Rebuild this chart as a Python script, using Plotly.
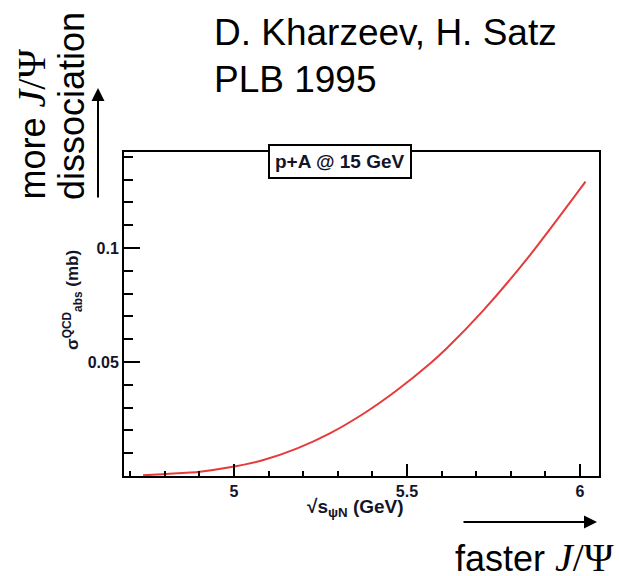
import plotly.graph_objects as go

# ---- data ----
sqrt_s = [4.737, 4.805, 4.902, 4.988, 5.085, 5.181, 5.277, 5.374, 5.470, 5.566,
          5.615, 5.720, 5.851, 6.016]
sigma_abs = [0.0003, 0.0009, 0.0019, 0.0038, 0.0070, 0.0120, 0.0187, 0.0273, 0.0375,
             0.0492, 0.0560, 0.0725, 0.0960, 0.1291]
x_tick_vals = [5, 5.5, 6]
x_tick_text = ["5", "5.5", "6"]
y_tick_vals = [0.05, 0.1]
y_tick_text = ["0.05", "0.1"]

W, H = 619, 576
L, R, T, B = 124, 599, 152, 476


def px(xp):
    return (xp - L) / (R - L)


def py(yp):
    return (B - yp) / (B - T)


TXT = "Liberation Sans, Arial, sans-serif"
DARK = "#141428"

fig = go.Figure()
fig.add_trace(go.Scatter(x=sqrt_s, y=sigma_abs, mode="lines",
                         line=dict(color="#e63b3b", width=2, shape="spline", smoothing=0.8),
                         showlegend=False, hoverinfo="skip"))

fig.update_layout(
    width=W, height=H,
    margin=dict(l=L, r=W - R, t=T, b=H - B),
    paper_bgcolor="white", plot_bgcolor="white",
    font=dict(family=TXT, color=DARK),
    xaxis=dict(range=[4.682, 6.055], showgrid=False, zeroline=False,
               showline=True, mirror=True, linecolor="black", linewidth=2,
               tickmode="array", tickvals=x_tick_vals, ticktext=x_tick_text,
               ticks="inside", ticklen=12, tickwidth=2, tickcolor="black",
               tickfont=dict(family=TXT, size=16, color=DARK, weight=700),
               minor=dict(tickmode="linear", tick0=0, dtick=0.1, ticks="inside",
                          ticklen=5, tickwidth=2, tickcolor="black", showgrid=False)),
    yaxis=dict(range=[0, 0.1421], showgrid=False, zeroline=False,
               showline=True, mirror=True, linecolor="black", linewidth=2,
               tickmode="array", tickvals=y_tick_vals, ticktext=y_tick_text,
               ticks="inside", ticklen=16, tickwidth=2, tickcolor="black",
               ticklabelstandoff=0,
               tickfont=dict(family=TXT, size=16, color=DARK, weight=700),
               minor=dict(tickmode="linear", tick0=0, dtick=0.01, ticks="inside",
                          ticklen=9, tickwidth=2, tickcolor="black", showgrid=False)),
)

ann = []
# header text
ann.append(dict(x=px(212), y=py(33), xref="paper", yref="paper", xanchor="left",
                yanchor="middle", showarrow=False, text="D. Kharzeev, H. Satz",
                font=dict(family=TXT, size=37, color="black")))
ann.append(dict(x=px(212), y=py(79), xref="paper", yref="paper", xanchor="left",
                yanchor="middle", showarrow=False, text="PLB 1995",
                font=dict(family=TXT, size=37, color="black")))
JPSI = "<span style='font-family:Liberation Serif;font-size:40px'><i>J</i>/Ψ</span>"
# left rotated labels
ann.append(dict(x=px(31), y=py(202), xref="paper", yref="paper", xanchor="center",
                yanchor="bottom", showarrow=False, textangle=-90,
                text="more " + JPSI, font=dict(family=TXT, size=36, color="black")))
ann.append(dict(x=px(71), y=py(106), xref="paper", yref="paper", xanchor="center",
                yanchor="middle", showarrow=False, textangle=-90,
                text="dissociation", font=dict(family=TXT, size=36, color="black")))
# bottom label
ann.append(dict(x=px(453), y=py(557), xref="paper", yref="paper", xanchor="left",
                yanchor="middle", showarrow=False,
                text="faster " + JPSI, font=dict(family=TXT, size=36, color="black")))
# arrows
ann.append(dict(x=px(98), y=py(88), xref="paper", yref="paper", text="",
                showarrow=True, axref="pixel", ayref="pixel", ax=0, ay=111,
                arrowhead=2, arrowsize=1.3, arrowwidth=2, arrowcolor="black"))
ann.append(dict(x=px(597), y=py(522), xref="paper", yref="paper", text="",
                showarrow=True, axref="pixel", ayref="pixel", ax=-135, ay=0,
                arrowhead=2, arrowsize=1.3, arrowwidth=2, arrowcolor="black"))
# in-plot box label
ann.append(dict(x=px(340), y=py(161), xref="paper", yref="paper", xanchor="center",
                yanchor="middle", showarrow=False, text="<b>p+A @ 15 GeV</b>",
                font=dict(family=TXT, size=19, color=DARK),
                bgcolor="white", bordercolor="black", borderwidth=2, borderpad=5))
# axis titles
ann.append(dict(x=px(72), y=py(300), xref="paper", yref="paper", xanchor="center",
                yanchor="middle", showarrow=False, textangle=-90,
                text="<b>σ<sup>QCD</sup><sub>abs</sub> (mb)</b>",
                font=dict(family=TXT, size=17, color=DARK)))
ann.append(dict(x=px(305), y=py(508), xref="paper", yref="paper", xanchor="left",
                yanchor="middle", showarrow=False,
                text="<b>√s<sub>ψN</sub> (GeV)</b>",
                font=dict(family=TXT, size=19, color=DARK)))
fig.update_layout(annotations=ann)

fig.write_html("out.html")
